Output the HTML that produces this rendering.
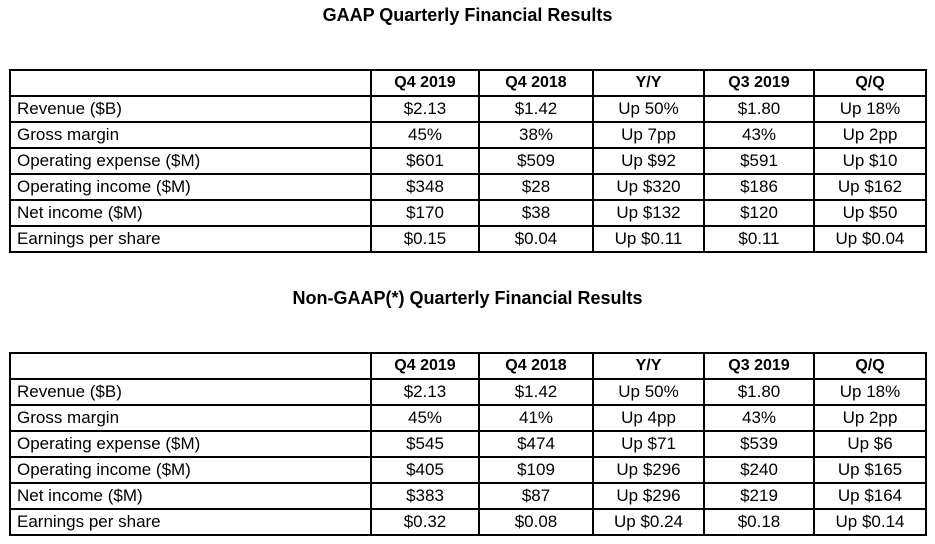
<!DOCTYPE html>
<html><head><meta charset="utf-8"><style>
body{margin:0;width:935px;height:544px;background:#fff;position:relative;font-family:"Liberation Sans",Arial,sans-serif;color:#000;overflow:hidden}
.title{position:absolute;left:0;width:935px;text-align:center;font-weight:bold;font-size:18px}
table{position:absolute;left:9px;border-collapse:collapse;border:2px solid #000;table-layout:fixed}
td{border:2px solid #000;height:24px;padding:0;font-size:17px;text-align:center;line-height:24px;white-space:nowrap;box-sizing:content-box}
td:first-child{text-align:left;padding-left:6px}
tr.h td{font-weight:bold;font-size:16px}
</style></head><body>
<div class="title" style="top:5px">GAAP Quarterly Financial Results</div>
<table style="top:69px">
<colgroup><col style="width:361px"><col style="width:108px"><col style="width:114px"><col style="width:111px"><col style="width:110px"><col style="width:112px"></colgroup>
<tr class="h"><td></td><td>Q4 2019</td><td>Q4 2018</td><td>Y/Y</td><td>Q3 2019</td><td>Q/Q</td></tr>
<tr><td>Revenue ($B)</td><td>$2.13</td><td>$1.42</td><td>Up 50%</td><td>$1.80</td><td>Up 18%</td></tr>
<tr><td>Gross margin</td><td>45%</td><td>38%</td><td>Up 7pp</td><td>43%</td><td>Up 2pp</td></tr>
<tr><td>Operating expense ($M)</td><td>$601</td><td>$509</td><td>Up $92</td><td>$591</td><td>Up $10</td></tr>
<tr><td>Operating income ($M)</td><td>$348</td><td>$28</td><td>Up $320</td><td>$186</td><td>Up $162</td></tr>
<tr><td>Net income ($M)</td><td>$170</td><td>$38</td><td>Up $132</td><td>$120</td><td>Up $50</td></tr>
<tr><td>Earnings per share</td><td>$0.15</td><td>$0.04</td><td>Up $0.11</td><td>$0.11</td><td>Up $0.04</td></tr>
</table>
<div class="title" style="top:288px">Non-GAAP(*) Quarterly Financial Results</div>
<table style="top:352px">
<colgroup><col style="width:361px"><col style="width:108px"><col style="width:114px"><col style="width:111px"><col style="width:110px"><col style="width:112px"></colgroup>
<tr class="h"><td></td><td>Q4 2019</td><td>Q4 2018</td><td>Y/Y</td><td>Q3 2019</td><td>Q/Q</td></tr>
<tr><td>Revenue ($B)</td><td>$2.13</td><td>$1.42</td><td>Up 50%</td><td>$1.80</td><td>Up 18%</td></tr>
<tr><td>Gross margin</td><td>45%</td><td>41%</td><td>Up 4pp</td><td>43%</td><td>Up 2pp</td></tr>
<tr><td>Operating expense ($M)</td><td>$545</td><td>$474</td><td>Up $71</td><td>$539</td><td>Up $6</td></tr>
<tr><td>Operating income ($M)</td><td>$405</td><td>$109</td><td>Up $296</td><td>$240</td><td>Up $165</td></tr>
<tr><td>Net income ($M)</td><td>$383</td><td>$87</td><td>Up $296</td><td>$219</td><td>Up $164</td></tr>
<tr><td>Earnings per share</td><td>$0.32</td><td>$0.08</td><td>Up $0.24</td><td>$0.18</td><td>Up $0.14</td></tr>
</table>
</body></html>
